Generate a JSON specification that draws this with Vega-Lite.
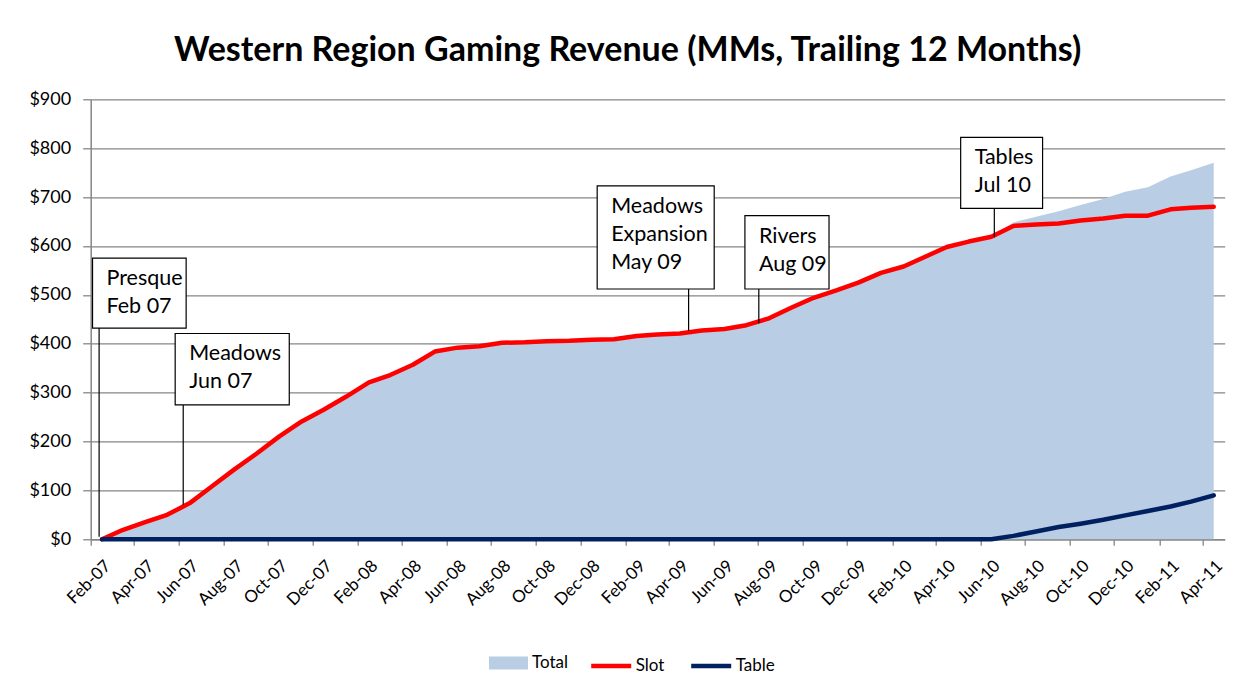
{
  "$schema": "https://vega.github.io/schema/vega-lite/v6.json",
  "width": 1134,
  "height": 440,
  "autosize": {"type": "none"},
  "padding": {"left": 90.7, "top": 99.3, "right": 23.3, "bottom": 150.7},
  "background": "white",
  "config": {"font": "Lato", "view": {"stroke": null}},
  "title": {
    "text": "Western Region Gaming Revenue (MMs, Trailing 12 Months)",
    "font": "Lato",
    "fontSize": 34,
    "fontWeight": "bold",
    "color": "black",
    "anchor": "middle",
    "dx": -30,
    "offset": 22
  },
  "datasets": {
    "rev": [
      {"date": "2007-02-01", "Total": 0, "Slot": 0, "Table": 0},
      {"date": "2007-03-01", "Total": 19, "Slot": 19, "Table": 0},
      {"date": "2007-04-01", "Total": 35, "Slot": 35, "Table": 0},
      {"date": "2007-05-01", "Total": 50, "Slot": 50, "Table": 0},
      {"date": "2007-06-01", "Total": 74, "Slot": 74, "Table": 0},
      {"date": "2007-07-01", "Total": 108, "Slot": 108, "Table": 0},
      {"date": "2007-08-01", "Total": 143, "Slot": 143, "Table": 0},
      {"date": "2007-09-01", "Total": 176, "Slot": 176, "Table": 0},
      {"date": "2007-10-01", "Total": 210, "Slot": 210, "Table": 0},
      {"date": "2007-11-01", "Total": 241, "Slot": 241, "Table": 0},
      {"date": "2007-12-01", "Total": 265, "Slot": 265, "Table": 0},
      {"date": "2008-01-01", "Total": 292, "Slot": 292, "Table": 0},
      {"date": "2008-02-01", "Total": 321, "Slot": 321, "Table": 0},
      {"date": "2008-03-01", "Total": 336, "Slot": 336, "Table": 0},
      {"date": "2008-04-01", "Total": 357, "Slot": 357, "Table": 0},
      {"date": "2008-05-01", "Total": 384, "Slot": 384, "Table": 0},
      {"date": "2008-06-01", "Total": 392, "Slot": 392, "Table": 0},
      {"date": "2008-07-01", "Total": 395, "Slot": 395, "Table": 0},
      {"date": "2008-08-01", "Total": 402, "Slot": 402, "Table": 0},
      {"date": "2008-09-01", "Total": 403, "Slot": 403, "Table": 0},
      {"date": "2008-10-01", "Total": 405, "Slot": 405, "Table": 0},
      {"date": "2008-11-01", "Total": 406, "Slot": 406, "Table": 0},
      {"date": "2008-12-01", "Total": 408, "Slot": 408, "Table": 0},
      {"date": "2009-01-01", "Total": 409, "Slot": 409, "Table": 0},
      {"date": "2009-02-01", "Total": 416, "Slot": 416, "Table": 0},
      {"date": "2009-03-01", "Total": 419, "Slot": 419, "Table": 0},
      {"date": "2009-04-01", "Total": 421, "Slot": 421, "Table": 0},
      {"date": "2009-05-01", "Total": 427, "Slot": 427, "Table": 0},
      {"date": "2009-06-01", "Total": 430, "Slot": 430, "Table": 0},
      {"date": "2009-07-01", "Total": 438, "Slot": 438, "Table": 0},
      {"date": "2009-08-01", "Total": 452, "Slot": 452, "Table": 0},
      {"date": "2009-09-01", "Total": 474, "Slot": 474, "Table": 0},
      {"date": "2009-10-01", "Total": 494, "Slot": 494, "Table": 0},
      {"date": "2009-11-01", "Total": 509, "Slot": 509, "Table": 0},
      {"date": "2009-12-01", "Total": 525, "Slot": 525, "Table": 0},
      {"date": "2010-01-01", "Total": 545, "Slot": 545, "Table": 0},
      {"date": "2010-02-01", "Total": 558, "Slot": 558, "Table": 0},
      {"date": "2010-03-01", "Total": 577, "Slot": 577, "Table": 0},
      {"date": "2010-04-01", "Total": 598, "Slot": 598, "Table": 0},
      {"date": "2010-05-01", "Total": 609, "Slot": 609, "Table": 0},
      {"date": "2010-06-01", "Total": 619, "Slot": 619, "Table": 0},
      {"date": "2010-07-01", "Total": 648, "Slot": 641, "Table": 7},
      {"date": "2010-08-01", "Total": 660, "Slot": 644, "Table": 16},
      {"date": "2010-09-01", "Total": 671, "Slot": 646, "Table": 25},
      {"date": "2010-10-01", "Total": 684, "Slot": 652, "Table": 32},
      {"date": "2010-11-01", "Total": 696, "Slot": 656, "Table": 40},
      {"date": "2010-12-01", "Total": 711, "Slot": 662, "Table": 49},
      {"date": "2011-01-01", "Total": 720, "Slot": 662, "Table": 58},
      {"date": "2011-02-01", "Total": 742, "Slot": 675, "Table": 67},
      {"date": "2011-03-01", "Total": 755, "Slot": 678, "Table": 77},
      {"date": "2011-04-01", "Total": 770, "Slot": 680, "Table": 90}
    ],
    "notes": [
      {"label": "Presque\nFeb 07", "x1": "2007-01-19", "x2": "2007-05-27", "top": 575, "bottom": 432, "lx": "2007-01-28", "ly": 5},
      {"label": "Meadows\nJun 07", "x1": "2007-05-12", "x2": "2007-10-15", "top": 421, "bottom": 275, "lx": "2007-05-23", "ly": 70},
      {"label": "Meadows\nExpansion\nMay 09", "x1": "2008-12-09", "x2": "2009-05-18", "top": 723, "bottom": 512, "lx": "2009-04-13", "ly": 426},
      {"label": "Rivers\nAug 09", "x1": "2009-06-29", "x2": "2009-10-22", "top": 662, "bottom": 512, "lx": "2009-07-18", "ly": 442},
      {"label": "Tables\nJul 10", "x1": "2010-04-20", "x2": "2010-08-10", "top": 822, "bottom": 677, "lx": "2010-06-05", "ly": 618}
    ]
  },
  "layer": [
    {
      "data": {"name": "rev"},
      "mark": {"type": "area", "color": "#B9CDE5"},
      "encoding": {
        "x": {
          "field": "date",
          "type": "temporal",
          "title": null,
          "scale": {
            "type": "utc",
            "domain": [
              {"year": 2007, "month": 1, "date": 16, "hours": 12, "utc": true},
              {"year": 2011, "month": 4, "date": 16, "utc": true}
            ]
          },
          "axis": {
            "values": [
              {"year": 2007, "month": 2, "date": 1, "utc": true},
              {"year": 2007, "month": 4, "date": 1, "utc": true},
              {"year": 2007, "month": 6, "date": 1, "utc": true},
              {"year": 2007, "month": 8, "date": 1, "utc": true},
              {"year": 2007, "month": 10, "date": 1, "utc": true},
              {"year": 2007, "month": 12, "date": 1, "utc": true},
              {"year": 2008, "month": 2, "date": 1, "utc": true},
              {"year": 2008, "month": 4, "date": 1, "utc": true},
              {"year": 2008, "month": 6, "date": 1, "utc": true},
              {"year": 2008, "month": 8, "date": 1, "utc": true},
              {"year": 2008, "month": 10, "date": 1, "utc": true},
              {"year": 2008, "month": 12, "date": 1, "utc": true},
              {"year": 2009, "month": 2, "date": 1, "utc": true},
              {"year": 2009, "month": 4, "date": 1, "utc": true},
              {"year": 2009, "month": 6, "date": 1, "utc": true},
              {"year": 2009, "month": 8, "date": 1, "utc": true},
              {"year": 2009, "month": 10, "date": 1, "utc": true},
              {"year": 2009, "month": 12, "date": 1, "utc": true},
              {"year": 2010, "month": 2, "date": 1, "utc": true},
              {"year": 2010, "month": 4, "date": 1, "utc": true},
              {"year": 2010, "month": 6, "date": 1, "utc": true},
              {"year": 2010, "month": 8, "date": 1, "utc": true},
              {"year": 2010, "month": 10, "date": 1, "utc": true},
              {"year": 2010, "month": 12, "date": 1, "utc": true},
              {"year": 2011, "month": 2, "date": 1, "utc": true},
              {"year": 2011, "month": 4, "date": 1, "utc": true}
            ],
            "labelExpr": "utcFormat(datum.value, '%b-%y')",
            "labelAngle": -45,
            "labelFontSize": 17,
            "labelFont": "Lato",
            "labelColor": "black",
            "tickOffset": -11.1,
            "labelOffset": 11.1,
            "tickSize": 6,
            "tickColor": "#868686",
            "tickWidth": 1.3,
            "domainColor": "#868686",
            "domainWidth": 1.5,
            "grid": false,
            "labelPadding": 12,
            "labelOverlap": false,
            "labelFlush": false,
            "labelBound": false
          }
        },
        "y": {
          "field": "Total",
          "type": "quantitative",
          "title": null,
          "scale": {"domain": [0, 900], "nice": false},
          "axis": {
            "values": [0, 100, 200, 300, 400, 500, 600, 700, 800, 900],
            "format": "$,.0f",
            "labelFontSize": 18,
            "labelFont": "Lato",
            "labelColor": "black",
            "tickSize": 8,
            "tickColor": "#868686",
            "tickWidth": 1.3,
            "domainColor": "#868686",
            "domainWidth": 1.5,
            "gridColor": "#868686",
            "gridWidth": 1.3,
            "labelPadding": 12
          }
        },
        "fill": {
          "datum": "Total",
          "scale": {"domain": ["Total"], "range": ["#B9CDE5"]},
          "legend": {
            "orient": "none",
            "legendX": 398.3,
            "legendY": 544.2,
            "title": null,
            "padding": 0,
            "symbolType": "M-1,-0.33L1,-0.33L1,0.33L-1,0.33Z",
            "symbolSize": 1521,
            "symbolStrokeWidth": 0,
            "symbolOpacity": 1,
            "labelFontSize": 17,
            "labelFont": "Lato",
            "labelColor": "black",
            "labelOffset": 4
          }
        }
      }
    },
    {
      "data": {"name": "rev"},
      "mark": {"type": "line", "strokeWidth": 4.5, "strokeJoin": "round", "strokeCap": "round"},
      "encoding": {
        "x": {"field": "date", "type": "temporal"},
        "y": {"field": "Slot", "type": "quantitative"},
        "stroke": {
          "datum": "Slot",
          "scale": {"domain": ["Slot", "Table"], "range": ["#FF0000", "#002060"]},
          "legend": {
            "orient": "none",
            "legendX": 498,
            "legendY": 544,
            "direction": "horizontal",
            "title": null,
            "padding": 0,
            "symbolType": "stroke",
            "symbolSize": 1600,
            "symbolStrokeWidth": 4.5,
            "labelFontSize": 17,
            "labelFont": "Lato",
            "labelColor": "black",
            "labelOffset": 2,
            "columnPadding": 17
          }
        }
      }
    },
    {
      "data": {"name": "rev"},
      "mark": {"type": "line", "strokeWidth": 4.5, "strokeJoin": "round", "strokeCap": "round"},
      "encoding": {
        "x": {"field": "date", "type": "temporal"},
        "y": {"field": "Table", "type": "quantitative"},
        "stroke": {"datum": "Table"}
      }
    },
    {
      "data": {"name": "notes"},
      "mark": {"type": "rule", "color": "black", "strokeWidth": 1.2},
      "encoding": {
        "x": {"field": "lx", "type": "temporal"},
        "y": {"field": "bottom", "type": "quantitative"},
        "y2": {"field": "ly"}
      }
    },
    {
      "data": {"name": "notes"},
      "mark": {"type": "rect", "fill": "white", "stroke": "black", "strokeWidth": 1.2},
      "encoding": {
        "x": {"field": "x1", "type": "temporal"},
        "x2": {"field": "x2"},
        "y": {"field": "top", "type": "quantitative"},
        "y2": {"field": "bottom"}
      }
    },
    {
      "data": {"name": "notes"},
      "mark": {
        "type": "text",
        "align": "left",
        "baseline": "top",
        "dx": 14,
        "dy": 10,
        "fontSize": 21.5,
        "font": "Lato",
        "lineHeight": 28,
        "lineBreak": "\n",
        "color": "black"
      },
      "encoding": {
        "x": {"field": "x1", "type": "temporal"},
        "y": {"field": "top", "type": "quantitative"},
        "text": {"field": "label", "type": "nominal"}
      }
    }
  ]
}
